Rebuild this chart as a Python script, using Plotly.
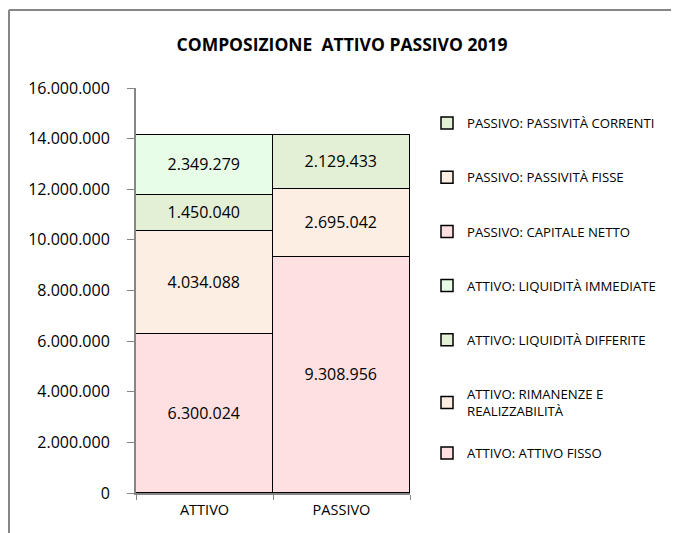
import plotly.graph_objects as go

categories = ["ATTIVO", "PASSIVO"]

series_names = [
    "ATTIVO: ATTIVO FISSO",
    "ATTIVO: RIMANENZE E<br>REALIZZABILITÀ",
    "ATTIVO: LIQUIDITÀ DIFFERITE",
    "ATTIVO: LIQUIDITÀ IMMEDIATE",
    "PASSIVO: CAPITALE NETTO",
    "PASSIVO: PASSIVITÀ FISSE",
    "PASSIVO: PASSIVITÀ CORRENTI",
]
series_values = [
    [6300024, None],
    [4034088, None],
    [1450040, None],
    [2349279, None],
    [None, 9308956],
    [None, 2695042],
    [None, 2129433],
]
series_colors = ["#FFE0E2", "#FDEEE4", "#E4F0D6", "#E7FDE7",
                 "#FFE0E2", "#FDEEE4", "#E4F0D6"]

tick_vals = [0, 2000000, 4000000, 6000000, 8000000, 10000000, 12000000, 14000000, 16000000]

TFONT = "Open Sans, sans-serif"
OFF = 8  # page body margin

fig = go.Figure()
n = len(series_names)
for i, (name, vals, col) in enumerate(zip(series_names, series_values, series_colors)):
    fig.add_trace(go.Bar(
        x=categories, y=vals, name=name,
        marker=dict(color=col, line=dict(color="black", width=1.5)),
        texttemplate="%{y:,.0f}", textposition="inside", insidetextanchor="middle",
        textfont=dict(color="black", size=16, family=TFONT),
        legendgroup="g%d" % i, legendrank=1000 + (n - i),
        legend="legend2" if i == 0 else "legend",
        cliponaxis=False,
    ))

W, H = 679 - OFF, 533 - OFF
L = 136 - OFF
T = 88 - OFF
R = W - (410 - OFF)
B = H - (493 - OFF)
pw, ph = W - L - R, H - T - B

def px_x(x):
    return (x - OFF - L) / pw

def px_y(y):
    return (H - B - (y - OFF)) / ph

legend_common = dict(traceorder="grouped", xanchor="left", yanchor="top",
                     tracegroupgap=34, font=dict(family=TFONT, size=13.2, color="black"),
                     itemwidth=30, bgcolor="rgba(0,0,0,0)")

fig.update_layout(
    width=W, height=H,
    barmode="stack", bargap=0,
    separators=",.",
    paper_bgcolor="white", plot_bgcolor="white",
    margin=dict(l=L, r=R, t=T, b=B, autoexpand=False),
    title=dict(text="<b>COMPOSIZIONE  ATTIVO PASSIVO 2019</b>", x=(342 - OFF) / W, xanchor="center",
               y=1 - (45 - OFF) / H, yanchor="middle",
               font=dict(family=TFONT, size=17.5, color="black")),
    font=dict(family=TFONT, color="black"),
    legend=dict(x=px_x(427), y=px_y(108), **legend_common),
    legend2=dict(x=px_x(427), y=px_y(438), **legend_common),
    showlegend=True,
    shapes=[
        dict(type="line", xref="paper", yref="paper",
             x0=px_x(9), x1=px_x(9), y0=px_y(560), y1=px_y(10),
             line=dict(color="#868686", width=2), layer="below"),
        dict(type="line", xref="paper", yref="paper",
             x0=px_x(9), x1=px_x(720), y0=px_y(10), y1=px_y(10),
             line=dict(color="#868686", width=2), layer="below"),
    ],
)
fig.update_yaxes(range=[0, 16000000], tickvals=tick_vals, tickformat=",.0f",
                 showgrid=False, zeroline=False, showline=True, linecolor="#868686", linewidth=2,
                 ticks="outside", ticklen=7, tickcolor="#868686", ticklabelstandoff=14,
                 tickfont=dict(size=16, family=TFONT, color="black"))
fig.update_xaxes(showgrid=False, showline=True, linecolor="#868686", linewidth=2,
                 ticks="outside", ticklen=5, tickcolor="#868686", tickson="boundaries",
                 ticklabelstandoff=3,
                 tickfont=dict(size=14.5, family=TFONT, color="black"))

fig.write_html("out.html")
